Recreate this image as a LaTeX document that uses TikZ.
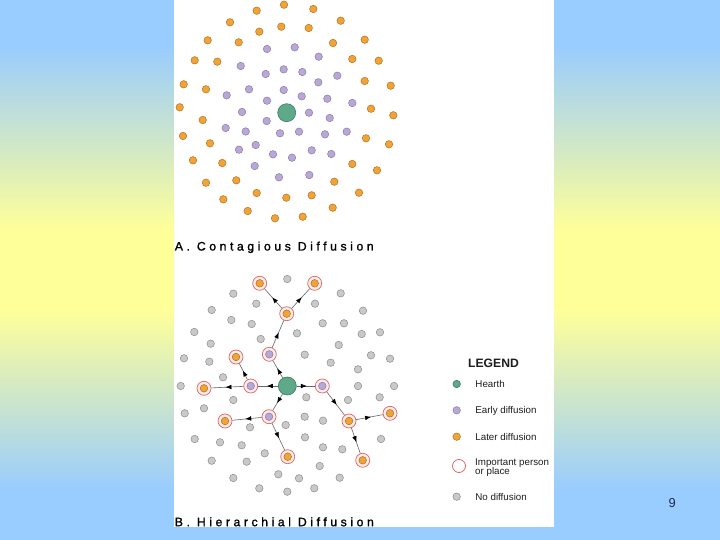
\documentclass[tikz,border=0pt]{standalone}
\usepackage{fontspec}
\setmainfont{Liberation Sans}
\newfontfamily\spaced[LetterSpace=29,FakeBold=1.2]{Liberation Sans}
\usetikzlibrary{shapes,arrows.meta,positioning,decorations.markings}
\definecolor{bgblue}{HTML}{99CCFF}
\definecolor{bgyellow}{HTML}{FFFF99}
\definecolor{hearthfill}{HTML}{5FA98B}
\definecolor{hearthline}{HTML}{3D7A62}
\definecolor{earlyfill}{HTML}{B9A8D6}
\definecolor{earlyline}{HTML}{8A7AA8}
\definecolor{latefill}{HTML}{F2A23A}
\definecolor{lateline}{HTML}{B37414}
\definecolor{nofill}{HTML}{C9C9C9}
\definecolor{noline}{HTML}{8C8C8C}
\definecolor{ringred}{HTML}{E06464}
\definecolor{linegray}{HTML}{666666}
\definecolor{textgray}{HTML}{1E1E1E}
\definecolor{numblue}{HTML}{1F2D50}
\pgfdeclareverticalshading{bgshade}{100bp}{color(0bp)=(bgblue); color(29.6bp)=(bgblue); color(46.3bp)=(bgyellow); color(53.7bp)=(bgyellow); color(70.8bp)=(bgblue); color(100bp)=(bgblue)}
\tikzstyle{dot} = [circle, inner sep=0pt, minimum size=7.5bp, line width=0.5bp]
\tikzstyle{later} = [dot, fill=latefill, draw=lateline]
\tikzstyle{early} = [dot, fill=earlyfill, draw=earlyline]
\tikzstyle{nodiff} = [dot, fill=nofill, draw=noline]
\tikzstyle{hearth} = [circle, inner sep=0pt, minimum size=18bp, fill=hearthfill, draw=hearthline, line width=0.6bp]
\tikzstyle{ring} = [circle, inner sep=0pt, minimum size=14bp, fill=ringred!12, draw=ringred, line width=0.7bp]
\tikzstyle{keylater} = [ring, path picture={\draw[fill=latefill, draw=lateline, line width=0.5bp] (path picture bounding box.center) circle (3.8bp);}]
\tikzstyle{keyearly} = [ring, path picture={\draw[fill=earlyfill, draw=earlyline, line width=0.5bp] (path picture bounding box.center) circle (3.8bp);}]
\tikzstyle{spread} = [draw=linegray, line width=0.6bp, postaction={decorate}, decoration={markings, mark=at position 0.56 with {\arrow[black]{Latex[length=6bp,width=4.6bp]}}}]
\tikzstyle{maptitle} = [inner sep=0pt, anchor=base west, text=black, font=\spaced\fontsize{12.3}{14}\selectfont]
\tikzstyle{legtext} = [inner sep=0pt, text height=7.1bp, text depth=0pt, text=textgray, font=\fontsize{9.8}{9.2}\selectfont]

\begin{document}
\begin{tikzpicture}[x=1bp,y=-1bp]
	\useasboundingbox (0,0) rectangle (720,540);
	\shade[shading=bgshade] (0,0) rectangle (720,540);
	\fill[white] (174,0) rectangle (553.5,526.7);

	% A. contagious diffusion
	\foreach \x/\y [count=\i] in {284/4.7,256.7/10.7,313.3/9,230/22.3,340.7/20.7,259.3/31.7,281.3/26.7,308.7/28,
		207.7/40.3,238.7/42.3,333/43,364.7/39.7,194.7/60.3,217.3/61.7,352.3/59,378.7/60.7,
		183.7/84.3,206/89.3,364.7/81,390.7/85.7,179.7/107.3,202.7/120,371/108.7,393.3/115.3,
		183/136,210/143.3,366/138.3,389/144.3,193/160.3,222.3/163,352.3/164,377/170.3,
		206/182.7,236.3/180.3,334.3/181.7,223.3/199.3,256.7/193,286.3/197.7,311.7/195.3,359/192.7,
		247.7/211,275/218.3,302.7/216.7,332.7/207.7}
		\node[later] (al\i) at (\x,\y) {};
	\foreach \x/\y [count=\i] in {267/49,294.7/47.3,318.7/56.7,240.7/66,265.7/74,283.7/69.3,302.3/72,337.3/75.7,
		318.3/82.3,226.7/95.3,249/89.3,283.7/90,301.7/96.3,327.3/98.7,267/100.7,352.3/103,
		242/112,309/112.7,266.7/121,329.7/118,225.7/128,245.7/131.5,280/133.3,299/131.7,
		325/134.3,346.7/131.7,239/149.7,255.7/145,273/154.3,292/157.7,311.7/150.3,331.3/154,
		254.7/166,279/177.3,309.3/175}
		\node[early] (ae\i) at (\x,\y) {};
	\node[hearth] (ah) at (286.7,112.7) {};
	\node[maptitle] (atitle) at (174.6,250.5) {A. Contagious Diffusion};

	% B. hierarchial diffusion
	\foreach \x/\y [count=\i] in {287.3/279,233.3/293.7,340.7/293.3,256.3/303.7,315/303.7,211.7/310,363/310.7,
		231.3/320,251.7/324,322.7/323.3,344/323.3,194.3/332,297/333.3,361.7/334,380/332.3,
		260.7/339,210.7/343.7,338.7/345,184/358.3,209.3/361.7,304.7/354.7,330.7/362.7,371/355.3,
		390/358.7,223/377.3,358/369.3,180.7/386,358/386,394/386,233.3/400,306.3/397.3,348/400,
		379.7/397.3,184.7/413.3,204/408.3,250/427.3,285.7/425,304.7/416.7,323/420.7,194.7/439,
		220/442.3,241.7/445.3,305/437.3,381/439,264.7/453.3,323/447.3,342.3/449.3,211.7/460.7,
		246.7/461.7,319.7/466,233.3/478,278.3/474.3,299/478.3,339.7/477.7,259.3/488.3,
		287.3/491.7,314.3/488.3}
		\node[nodiff] (bn\i) at (\x,\y) {};
	\node[hearth] (bh) at (287.3,386) {};
	\node[keyearly] (bp1) at (269.3,354.3) {};
	\node[keyearly] (bp2) at (250.7,386) {};
	\node[keyearly] (bp3) at (322.3,386) {};
	\node[keyearly] (bp4) at (269,416.7) {};
	\node[keylater] (bo1) at (259.7,283.3) {};
	\node[keylater] (bo2) at (314.7,283.3) {};
	\node[keylater] (bo3) at (286.7,313.7) {};
	\node[keylater] (bo4) at (236,357) {};
	\node[keylater] (bo5) at (204,388.3) {};
	\node[keylater] (bo6) at (225,421) {};
	\node[keylater] (bo7) at (349,421) {};
	\node[keylater] (bo8) at (390,413.3) {};
	\node[keylater] (bo9) at (287.7,456.7) {};
	\node[keylater] (bo10) at (362.7,460.3) {};
	\foreach \a/\b in {bh/bp1,bp1/bo3,bo3/bo1,bo3/bo2,bh/bp2,bp2/bo5,bp2/bo4,bh/bp3,
		bp3/bo7,bo7/bo8,bo7/bo10,bh/bp4,bp4/bo6,bp4/bo9}
		\draw[spread] (\a) -- (\b);
	\node[maptitle] (btitle) at (174.6,526.2) {B. Hierarchial Diffusion};

	% legend
	\node[inner sep=0pt, text height=8.7bp, text depth=0pt, text=textgray, font=\bfseries\fontsize{12.2}{14}\selectfont] (legend) at (493.5,362.8) {LEGEND};
	\node[hearth, minimum size=7.5bp] (lghearth) at (456.7,384) {};
	\node[legtext, right=14.5bp of lghearth] (lgtext1) {Hearth};
	\node[early] (lgearly) at (456.7,410.3) {};
	\node[legtext, right=14.5bp of lgearly] (lgtext2) {Early diffusion};
	\node[later] (lglater) at (456.7,436.7) {};
	\node[legtext, right=14.5bp of lglater] (lgtext3) {Later diffusion};
	\node[ring, fill=white, minimum size=13bp, line width=0.8bp] (lgring) at (459,466) {};
	\node[inner sep=0pt, anchor=west, align=left, text=textgray, font=\fontsize{9.8}{9.2}\selectfont] (lgtext4) at (475,467.4) {Important person\\or place};
	\node[nodiff] (lgnone) at (456.7,496.7) {};
	\node[legtext, right=14.5bp of lgnone] (lgtext5) {No diffusion};

	\node[text=numblue, font=\fontsize{13}{15}\selectfont] (pagenum) at (672.3,503.3) {9};
\end{tikzpicture}
\end{document}
